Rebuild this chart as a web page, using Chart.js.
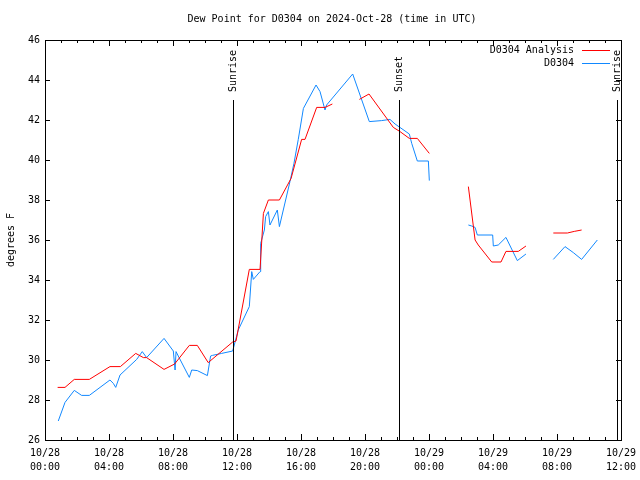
<!DOCTYPE html>
<html>
<head>
<meta charset="utf-8">
<script src="https://cdn.jsdelivr.net/npm/chart.js@4.4.0/dist/chart.umd.min.js"></script>
<style>
  body { margin: 0; background: #fff; }
  #wrap { width: 640px; height: 480px; }
</style>
</head>
<body>
<div id="wrap"><canvas id="dew-canvas" width="640" height="480"></canvas></div>
<script>
// hours since 10/28 00:00 UTC, null = gap in record
var analysisHours = [0.79,1.25,1.83,2.77,4.06,4.71,5.67,6.15,6.35,7.44,8.1,9.02,9.52,10.2,11.73,11.94,12.77,13.44,13.65,13.96,14.65,15.38,16.04,16.25,16.98,17.5,17.96,18.8,19.65,20.25,21.77,22.19,22.77,23.27,24.02,25,26.46,26.88,27.08,27.92,28.5,28.81,29.58,30.06,31,31.77,32.65,33.08,33.54];
var analysisDew = [28.63,28.63,29.03,29.03,29.67,29.67,30.33,30.12,30.12,29.53,29.8,30.73,30.73,29.87,30.9,30.95,34.53,34.53,37.33,38.0,38.0,39.08,41.03,41.03,42.63,42.63,42.8,null,43.03,43.3,41.63,41.42,41.08,41.08,40.33,null,38.67,36.0,35.75,34.9,34.9,35.43,35.43,35.7,null,36.35,36.35,36.43,36.5];

var obsHours = [0.83,1.25,1.83,2.29,2.77,4.06,4.27,4.42,4.69,5.73,6.08,6.35,7.44,8.02,8.13,8.19,8.33,9.02,9.17,9.52,10.15,10.35,10.46,11.04,11.73,12.08,12.77,12.92,13.02,13.44,13.48,13.71,13.79,13.96,14.06,14.52,14.65,15.31,15.56,15.83,16.15,16.94,17.19,17.5,17.6,19.23,20.27,21.04,21.56,21.88,22.77,22.92,23.27,23.96,24.02,25,26.46,26.67,26.88,27.02,27.98,28.02,28.33,28.81,29.52,30.06,31,31.77,32.5,33.02,33.54,34.52];
var obsDew = [26.95,27.88,28.48,28.23,28.23,29.0,28.83,28.63,29.25,30.03,30.42,30.12,31.08,30.45,29.5,30.42,30.2,29.13,29.5,29.47,29.22,30.2,30.23,30.33,30.45,31.5,32.67,34.42,34.03,34.42,35.83,36.5,37.17,37.42,36.75,37.5,36.67,38.92,39.83,41.03,42.58,43.75,43.42,42.5,42.75,44.3,41.92,41.97,42.03,41.8,41.3,40.83,39.95,39.95,38.97,null,36.75,36.7,36.63,36.25,36.25,35.7,35.75,36.13,34.97,35.3,null,35.03,35.67,35.37,35.03,36.0];

var xTickLabels = {0:['10/28','00:00'],4:['10/28','04:00'],8:['10/28','08:00'],12:['10/28','12:00'],16:['10/28','16:00'],20:['10/28','20:00'],24:['10/29','00:00'],28:['10/29','04:00'],32:['10/29','08:00'],36:['10/29','12:00']};
var sunEvents = ['Sunrise','Sunset','Sunrise'];
var sunHours = [11.75, 22.14, 35.75];

var seriesNames = ['D0304 Analysis', 'D0304'];
var seriesColors = ['#ff0000', '#1188ff'];

var FONT = '10px "DejaVu Sans Mono", monospace';

function toPoints(xs, ys) {
	var pts = [];
	for (var i = 0; i < xs.length; i++) pts.push({x: xs[i], y: ys[i]});
	return pts;
}

var decorPlugin = {
	id: 'decor',
	afterDraw: function(chart) {
		var ctx = chart.ctx;
		var a = chart.chartArea;
		var xs = chart.scales.x, ys = chart.scales.y;
		ctx.save();
		ctx.strokeStyle = '#000';
		ctx.lineWidth = 1;
		// frame
		ctx.strokeRect(Math.round(a.left) + 0.5, Math.round(a.top) + 0.5, Math.round(a.right - a.left), Math.round(a.bottom - a.top));
		ctx.beginPath();
		// x ticks (inside, mirrored on top)
		for (var h = 0; h <= 36; h++) {
			var px = Math.round(xs.getPixelForValue(h)) + 0.5;
			var len = (h % 4 === 0) ? 6 : 3;
			ctx.moveTo(px, a.bottom); ctx.lineTo(px, a.bottom - len);
			ctx.moveTo(px, a.top); ctx.lineTo(px, a.top + len);
		}
		// y ticks
		for (var v = 26; v <= 46; v += 2) {
			var py = Math.round(ys.getPixelForValue(v)) + 0.5;
			ctx.moveTo(a.left, py); ctx.lineTo(a.left + 5, py);
			ctx.moveTo(a.right, py); ctx.lineTo(a.right - 5, py);
		}
		// sunrise / sunset lines
		for (var i = 0; i < sunHours.length; i++) {
			var sx = Math.round(xs.getPixelForValue(sunHours[i])) + 0.5;
			ctx.moveTo(sx, 100); ctx.lineTo(sx, a.bottom);
		}
		ctx.stroke();

		ctx.fillStyle = '#000';
		ctx.font = FONT;
		// sun labels
		for (var i = 0; i < sunHours.length; i++) {
			var sx = Math.round(xs.getPixelForValue(sunHours[i])) + 0.5;
			ctx.save();
			ctx.translate(sx, 92);
			ctx.rotate(-Math.PI / 2);
			ctx.textAlign = 'left';
			ctx.textBaseline = 'middle';
			ctx.fillText(sunEvents[i], 0, 0);
			ctx.restore();
		}
		// title
		ctx.textAlign = 'center';
		ctx.textBaseline = 'middle';
		ctx.fillText('Dew Point for D0304 on 2024-Oct-28 (time in UTC)', 332, 19);
		// y axis title
		ctx.save();
		ctx.translate(11, 240);
		ctx.rotate(-Math.PI / 2);
		ctx.fillText('degrees F', 0, 0);
		ctx.restore();
		// legend
		ctx.textAlign = 'right';
		for (var k = 0; k < seriesNames.length; k++) {
			var ly = 50 + k * 13;
			ctx.fillStyle = '#000';
			ctx.fillText(seriesNames[k], 574, ly);
			ctx.strokeStyle = seriesColors[k];
			ctx.beginPath();
			ctx.moveTo(582, ly + 0.5); ctx.lineTo(610, ly + 0.5);
			ctx.stroke();
		}
		ctx.restore();
	}
};

var canvas = document.querySelector('#dew-canvas');

new Chart(canvas, {
	type: 'line',
	data: {
		datasets: [
			{
				label: seriesNames[0],
				data: toPoints(analysisHours, analysisDew),
				borderColor: seriesColors[0],
				borderWidth: 1,
				pointRadius: 0,
				spanGaps: false,
				tension: 0
			},
			{
				label: seriesNames[1],
				data: toPoints(obsHours, obsDew),
				borderColor: seriesColors[1],
				borderWidth: 1,
				pointRadius: 0,
				spanGaps: false,
				tension: 0
			}
		]
	},
	options: {
		responsive: false,
		animation: false,
		layout: { padding: { top: 40, right: 19, left: 0, bottom: 0 } },
		plugins: { legend: { display: false }, title: { display: false }, tooltip: { enabled: false } },
		scales: {
			x: {
				type: 'linear',
				min: 0, max: 36,
				grid: { display: false, drawTicks: false },
				border: { display: false },
				ticks: {
					stepSize: 4,
					autoSkip: false,
					maxRotation: 0,
					padding: 6,
					color: '#000',
					font: { family: '"DejaVu Sans Mono", monospace', size: 10, lineHeight: 1.4 },
					callback: function(value) { return xTickLabels[value] || ''; }
				},
				afterFit: function(scale) {
					scale.height = 40;
					scale.paddingLeft = 0;
					scale.paddingRight = 0;
				}
			},
			y: {
				min: 26, max: 46,
				grid: { display: false, drawTicks: false },
				border: { display: false },
				ticks: {
					stepSize: 2,
					padding: 5,
					color: '#000',
					font: { family: '"DejaVu Sans Mono", monospace', size: 10 }
				},
				afterFit: function(scale) {
					scale.width = 45;
					scale.paddingTop = 0;
					scale.paddingBottom = 0;
				}
			}
		}
	},
	plugins: [decorPlugin]
});
</script>
</body>
</html>
